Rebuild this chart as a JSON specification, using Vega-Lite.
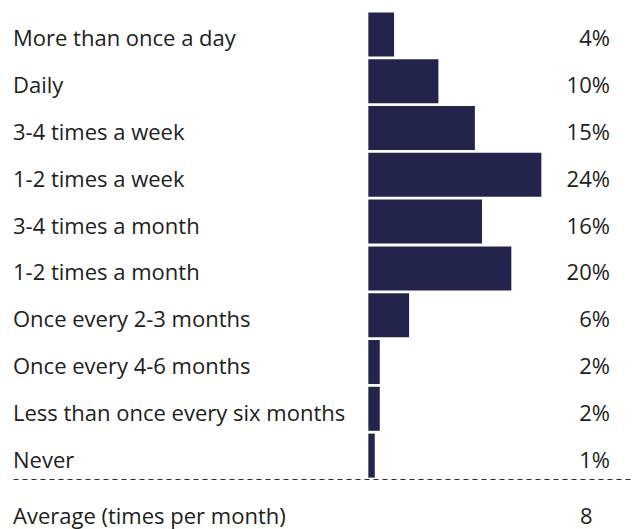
{
  "$schema": "https://vega.github.io/schema/vega-lite/v6.json",
  "padding": {"left": 13, "top": 11, "right": 8, "bottom": 0},
  "autosize": {"type": "pad"},
  "background": "white",
  "spacing": 0,
  "config": {
    "view": {"stroke": null},
    "font": "Open Sans",
    "text": {"font": "Open Sans", "fontSize": 22, "color": "#1c2220"}
  },
  "vconcat": [
    {
      "width": 617,
      "height": 468,
      "data": {
        "values": [
          {"frequency": "More than once a day", "share": 0.036},
          {"frequency": "Daily", "share": 0.098},
          {"frequency": "3-4 times a week", "share": 0.149},
          {"frequency": "1-2 times a week", "share": 0.242},
          {"frequency": "3-4 times a month", "share": 0.159},
          {"frequency": "1-2 times a month", "share": 0.200},
          {"frequency": "Once every 2-3 months", "share": 0.057},
          {"frequency": "Once every 4-6 months", "share": 0.016},
          {"frequency": "Less than once every six months", "share": 0.016},
          {"frequency": "Never", "share": 0.009}
        ]
      },
      "encoding": {
        "y": {
          "field": "frequency",
          "type": "nominal",
          "sort": null,
          "axis": null,
          "scale": {"paddingInner": 0.06, "paddingOuter": 0.03}
        }
      },
      "layer": [
        {
          "mark": {"type": "bar", "color": "#23244b"},
          "encoding": {
            "x": {
              "field": "share",
              "type": "quantitative",
              "scale": {"domain": [-0.497, 0.366], "nice": false, "zero": false},
              "axis": {
                "labels": false,
                "ticks": false,
                "grid": false,
                "title": null,
                "domain": true,
                "domainDash": [5, 4],
                "domainColor": "#2a2b4f",
                "domainWidth": 1
              }
            }
          }
        },
        {
          "mark": {"type": "text", "align": "left", "baseline": "middle", "dy": 5},
          "encoding": {
            "x": {"datum": -0.497, "type": "quantitative"},
            "text": {"field": "frequency"}
          }
        },
        {
          "mark": {"type": "text", "align": "right", "baseline": "middle", "dy": 5},
          "encoding": {
            "x": {"datum": 0.338, "type": "quantitative"},
            "text": {"field": "share", "format": ".0%"}
          }
        }
      ]
    },
    {
      "width": 617,
      "height": 50,
      "data": {"values": [{"label": "Average (times per month)", "value": 8}]},
      "layer": [
        {
          "mark": {"type": "text", "align": "left", "baseline": "middle", "dy": 13},
          "encoding": {
            "x": {
              "datum": -0.497,
              "type": "quantitative",
              "scale": {"domain": [-0.497, 0.366], "nice": false, "zero": false},
              "axis": null
            },
            "text": {"field": "label"}
          }
        },
        {
          "mark": {"type": "text", "align": "center", "baseline": "middle", "dy": 13},
          "encoding": {
            "x": {"datum": 0.305, "type": "quantitative"},
            "text": {"field": "value"}
          }
        }
      ]
    }
  ]
}
